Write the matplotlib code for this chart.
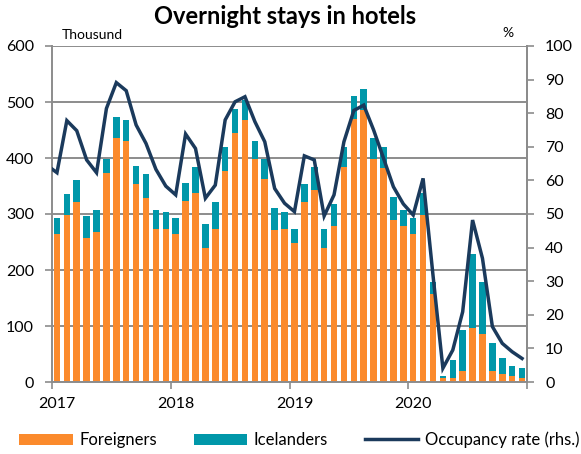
import matplotlib
matplotlib.use("Agg")
import matplotlib.pyplot as plt
from matplotlib.patches import Patch
from matplotlib.lines import Line2D
import numpy as np

plt.rcParams['font.family'] = ['Lato', 'DejaVu Sans']

years = ["2017", "2018", "2019", "2020"]

foreigners = [
    264, 299, 321, 257, 268, 374, 435, 431, 353, 328, 274, 274,
    264, 324, 338, 239, 274, 377, 445, 467, 399, 363, 271, 274,
    249, 321, 342, 239, 279, 384, 470, 485, 399, 382, 289, 279,
    264, 299, 157, 7, 8, 19, 97, 86, 19, 15, 11, 7,
]
icelanders = [
    28, 36, 40, 39, 39, 25, 39, 36, 32, 43, 33, 30,
    28, 32, 46, 43, 47, 43, 43, 37, 31, 36, 40, 29,
    25, 32, 42, 35, 38, 36, 40, 38, 36, 38, 42, 28,
    28, 38, 22, 4, 31, 74, 131, 92, 50, 28, 18, 18,
]
# occupancy rate (%), first value is Dec 2016 (clipped at the left edge)
occupancy = [
    64.5,
    62.3, 77.8, 74.8, 66.1, 62.3, 81.4, 89.1, 86.7, 76.5, 71.0, 63.3, 58.3,
    55.7, 73.8, 69.5, 54.7, 58.6, 78.0, 83.4, 84.9, 77.5, 71.5, 57.6, 53.2,
    50.7, 67.3, 66.1, 49.4, 55.7, 71.5, 80.8, 82.4, 75.0, 66.6, 58.1, 53.0,
    49.7, 60.6, 31.8, 4.1, 9.5, 20.9, 48.2, 36.8, 16.5, 11.5, 9.0, 7.0,
]

ORANGE = "#FB8A2C"
TEAL = "#0097A9"
NAVY = "#1B3A5C"
GRID = "#8C8C8C"

W, H = 581, 454
fig = plt.figure(figsize=(W / 100, H / 100), dpi=100)
ax = fig.add_axes([52 / W, 1 - 382 / H, (527 - 52) / W, (382 - 46) / H])

x = np.arange(len(foreigners))
ax.bar(x, foreigners, width=0.66, color=ORANGE, zorder=2)
ax.bar(x, icelanders, width=0.66, bottom=foreigners, color=TEAL, zorder=2)

ax.set_xlim(-0.5, len(foreigners) - 0.5)
ax.set_ylim(0, 600)
ax.set_yticks(range(0, 601, 100))
ax.yaxis.grid(True, color=GRID, linewidth=1.4)
ax.set_axisbelow(True)

# year ticks at boundaries, labels at first month
ax.set_xticks([-0.5, 11.5, 23.5, 35.5, 47.5])
ax.set_xticklabels([])
ax.set_xticks([0, 12, 24, 36], minor=True)
ax.set_xticklabels(years, minor=True)
ax.tick_params(axis='x', which='major', length=5, width=1.2, color=GRID)
ax.tick_params(axis='x', which='minor', length=0, pad=11, labelsize=11.5)
ax.tick_params(axis='y', length=5, width=1.2, color=GRID, labelsize=11.5, pad=8)

ax.spines['top'].set_visible(False)
for s in ['left', 'bottom', 'right']:
    ax.spines[s].set_color(GRID)
    ax.spines[s].set_linewidth(1.4)

ax2 = ax.twinx()
xo = np.arange(-1, len(occupancy) - 1)
ax2.plot(xo, occupancy, color=NAVY, linewidth=2.5, solid_joinstyle='miter', zorder=3)
ax2.set_ylim(0, 100)
ax2.set_yticks(range(0, 101, 10))
ax2.tick_params(axis='y', length=5, width=1.2, color=GRID, labelsize=11.5, pad=8)
for s in ['top', 'left', 'bottom']:
    ax2.spines[s].set_visible(False)
ax2.spines['right'].set_color(GRID)
ax2.spines['right'].set_linewidth(1.4)
ax.set_xlim(-0.5, len(foreigners) - 0.5)

fig.text(0.49, 1 - 17 / H, "Overnight stays in hotels", ha='center', va='center',
         fontsize=17, fontweight='bold')
fig.text(62 / W, 1 - 35 / H, "Thousund", ha='left', va='center', fontsize=10)
fig.text(508 / W, 1 - 33 / H, "%", ha='center', va='center', fontsize=10)

handles = [
    Patch(facecolor=ORANGE, edgecolor='none'),
    Patch(facecolor=TEAL, edgecolor='none'),
    Line2D([0], [0], color=NAVY, linewidth=2.5),
]
labels = ["Foreigners", "Icelanders", "Occupancy rate (rhs.)"]
fig.legend(handles, labels, loc='center', bbox_to_anchor=(0.515, 1 - 440 / H),
           ncol=3, frameon=False, fontsize=12, handlelength=3.2, handleheight=0.7,
           handletextpad=0.4, columnspacing=2.2)

fig.savefig("out.png", dpi=100)
